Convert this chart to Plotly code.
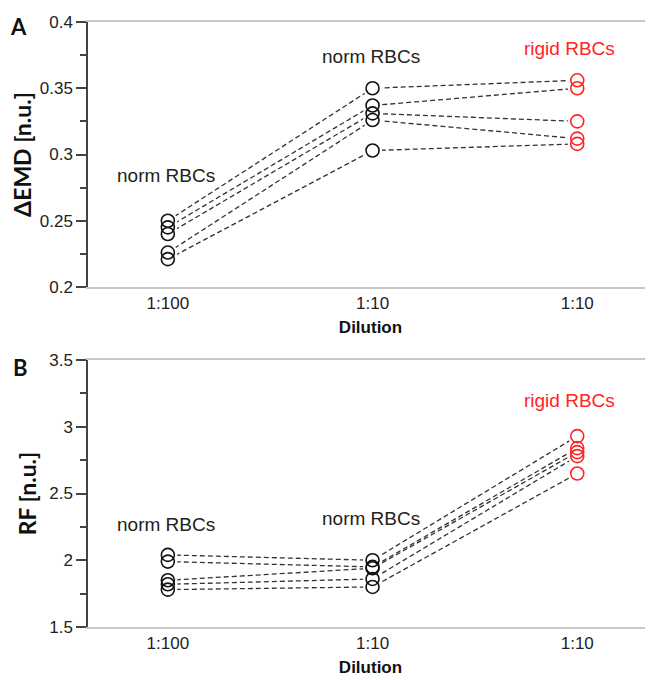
import plotly.graph_objects as go
from plotly.subplots import make_subplots

# ---- data ----
dilution_labels = ["1:100", "1:10", "1:10"]
group_labels = ["norm RBCs", "norm RBCs", "rigid RBCs"]
x_pos = [0, 1, 2]

# Panel A: ΔEMD per sample (1:100 norm, 1:10 norm, 1:10 rigid)
emd_s1 = [0.250, 0.350, 0.356]
emd_s2 = [0.245, 0.337, 0.350]
emd_s3 = [0.240, 0.331, 0.325]
emd_s4 = [0.226, 0.326, 0.312]
emd_s5 = [0.221, 0.303, 0.308]
emd_series = [emd_s1, emd_s2, emd_s3, emd_s4, emd_s5]

# Panel B: RF per sample
rf_s1 = [2.04, 2.00, 2.93]
rf_s2 = [1.99, 1.95, 2.84]
rf_s3 = [1.85, 1.94, 2.81]
rf_s4 = [1.82, 1.86, 2.78]
rf_s5 = [1.78, 1.80, 2.65]
rf_series = [rf_s1, rf_s2, rf_s3, rf_s4, rf_s5]

point_colors = ["#111111", "#111111", "#ff2424"]

# page body has an 8px default margin: figure is sized/offset to compensate
W, H = 645, 672
ML, MR, MT, MB = 80, 0, 14, 53
PW, PH = W - ML - MR, H - MT - MB

fig = make_subplots(rows=2, cols=1, vertical_spacing=0.12)

def add_panel(series, row):
    for s in series:
        fig.add_trace(go.Scatter(x=x_pos, y=s, mode="lines",
                                 line=dict(color="#333333", width=1.3, dash="5px,3px"),
                                 showlegend=False, hoverinfo="skip"), row=row, col=1)
    for s in series:
        fig.add_trace(go.Scatter(x=x_pos, y=s, mode="markers",
                                 marker=dict(symbol="circle", size=19, color="white",
                                             line=dict(width=0, color="white")),
                                 showlegend=False, hoverinfo="skip"), row=row, col=1)
    for s in series:
        fig.add_trace(go.Scatter(x=x_pos, y=s, mode="markers",
                                 marker=dict(symbol="circle-open", size=13, color=point_colors,
                                             line=dict(width=1.6, color=point_colors)),
                                 showlegend=False), row=row, col=1)

add_panel(emd_series, 1)
add_panel(rf_series, 2)

xaxis_common = dict(range=[-0.39, 2.37], tickvals=x_pos, ticktext=dilution_labels,
                    showline=True, linecolor="#c8c8c8", linewidth=2, mirror=True,
                    ticks="", showgrid=False, zeroline=False, automargin=False,
                    tickfont=dict(family="Liberation Sans, Arial", size=17, color="#222"),
                    title=dict(text="<b>Dilution</b>", standoff=9,
                               font=dict(family="Liberation Sans, Arial", size=17, color="#111")))
fig.update_xaxes(**xaxis_common, row=1, col=1)
fig.update_xaxes(**xaxis_common, row=2, col=1)

yaxis_common = dict(showline=True, linecolor="#444", linewidth=1.5, ticks="outside",
                    ticklen=10, tickwidth=1.5, tickcolor="#444", showgrid=False, zeroline=False,
                    automargin=False,
                    tickfont=dict(family="Liberation Sans, Arial", size=17, color="#222"))
fig.update_yaxes(**yaxis_common, range=[0.2, 0.4], tickvals=[0.2, 0.25, 0.3, 0.35, 0.4],
                 ticktext=["0.2", "0.25", "0.3", "0.35", "0.4"],
                 minor=dict(tickvals=[0.225, 0.275, 0.325, 0.375], ticklen=6, tickwidth=1.5,
                            tickcolor="#444", ticks="outside"),
                 title=dict(text="<b>ΔEMD [n.u.]</b>", standoff=6,
                            font=dict(family="Lato, Liberation Sans", size=23, color="#111")),
                 row=1, col=1)
fig.update_yaxes(**yaxis_common, range=[1.5, 3.5], tickvals=[1.5, 2, 2.5, 3, 3.5],
                 ticktext=["1.5", "2", "2.5", "3", "3.5"],
                 minor=dict(tickvals=[1.75, 2.25, 2.75, 3.25], ticklen=6, tickwidth=1.5,
                            tickcolor="#444", ticks="outside"),
                 title=dict(text="<b>RF [n.u.]</b>", standoff=6,
                            font=dict(family="Lato, Liberation Sans", size=23, color="#111")),
                 row=2, col=1)

fig.update_layout(
    width=W, height=H,
    margin=dict(l=ML, r=MR, t=MT, b=MB),
    paper_bgcolor="white", plot_bgcolor="white",
    showlegend=False,
)
fig.layout.yaxis.domain = [0.562, 1.0]
fig.layout.yaxis2.domain = [0.0, 0.4413]

label_y_a = [0.284, 0.374, 0.380]
label_y_b = [2.265, 2.31, 3.197]
label_dx = [-0.01, -0.01, -0.04]
for i in range(3):
    col = "#ff2424" if group_labels[i].startswith("rigid") else "#222"
    fig.add_annotation(x=x_pos[i] + label_dx[i], y=label_y_a[i], xref="x", yref="y",
                       text=group_labels[i], showarrow=False,
                       font=dict(family="Liberation Sans, Arial", size=19, color=col))
    fig.add_annotation(x=x_pos[i] + label_dx[i], y=label_y_b[i], xref="x2", yref="y2",
                       text=group_labels[i], showarrow=False,
                       font=dict(family="Liberation Sans, Arial", size=19, color=col))

# panel letters, positioned in page pixels (minus the 8px body offset)
for letter, px, py in [("A", 18, 27), ("B", 20, 367)]:
    fx, fy = px - 8, py - 8
    fig.add_annotation(x=(fx - ML) / PW, y=(H - fy - MB) / PH,
                       xref="paper", yref="paper", xanchor="center", yanchor="middle",
                       text=f"<b>{letter}</b>", showarrow=False,
                       font=dict(family="Lato, Liberation Sans", size=22, color="#111"))

fig.write_html("out.html")
